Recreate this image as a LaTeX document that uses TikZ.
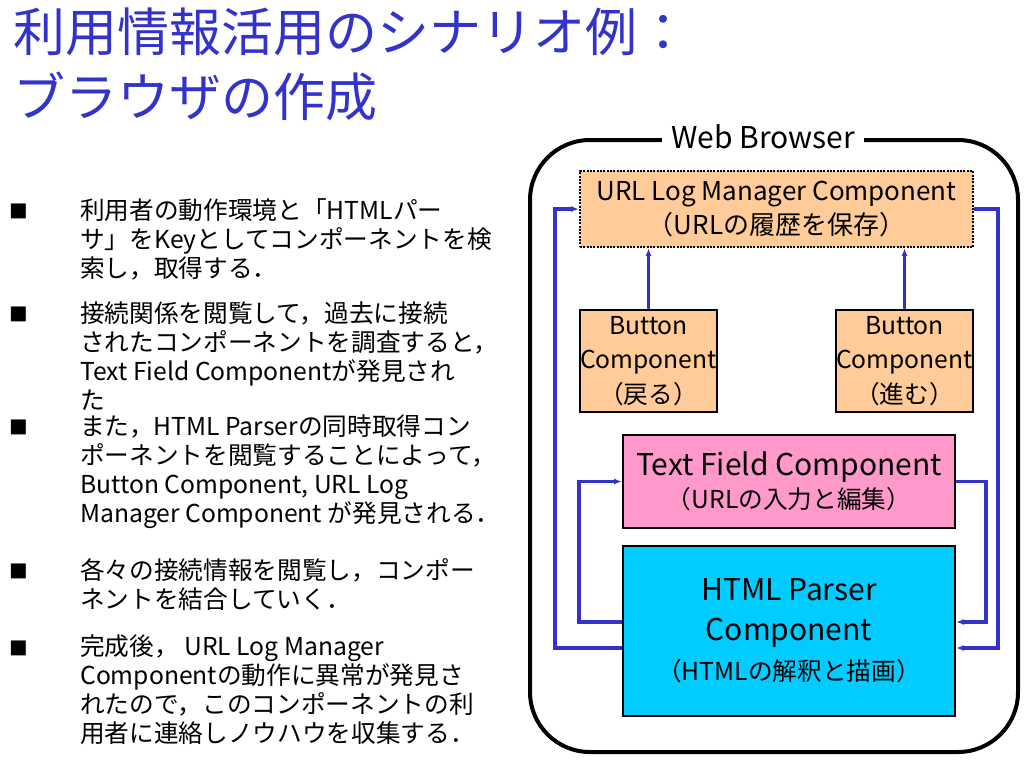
\documentclass[tikz,border=0pt]{standalone}
\usepackage{fontspec}
\setmainfont{Noto Sans CJK JP}
\usetikzlibrary{arrows.meta,calc}

\definecolor{titleblue}{RGB}{51,51,204}
\definecolor{linkblue}{RGB}{51,51,204}
\definecolor{peach}{RGB}{255,204,153}
\definecolor{rosepink}{RGB}{255,153,204}
\definecolor{skycyan}{RGB}{0,204,255}

\begin{document}
\begin{tikzpicture}[x=0.75pt,y=0.75pt,yscale=-1,xscale=1,
    comp/.style={draw=black,line width=1.5pt,inner sep=0pt,align=center,font=\fontsize{18.5}{25}\selectfont},
    link/.style={draw=linkblue,line width=2.4pt,-{Latex[length=6pt,width=4.5pt]}},
    bullet/.style={inner sep=0pt,font=\fontsize{14}{14}\selectfont},
    para/.style={anchor=north west,inner sep=0pt,align=left,font=\fontsize{18.5}{21.75}\selectfont}]
    \useasboundingbox (0,0) rectangle (1024,768);

    %Title
    \node[anchor=north west,inner sep=0pt,align=left,text=titleblue,font=\fontsize{39}{48.75}\selectfont] (title) at (13,8) {利用情報活用のシナリオ例：\\ブラウザの作成};

    %Bullets
    \node[bullet] (b1) at (19,211) {■};
    \node[para] (p1) at (80,198) {利用者の動作環境と「HTMLパー\\サ」をKeyとしてコンポーネントを検\\索し，取得する．};
    \node[bullet] (b2) at (19,314) {■};
    \node[para] (p2) at (80,301) {接続関係を閲覧して，過去に接続\\されたコンポーネントを調査すると，\\Text Field Componentが発見され\\た};
    \node[bullet] (b3) at (19,427) {■};
    \node[para] (p3) at (80,414) {また，HTML Parserの同時取得コン\\ポーネントを閲覧することによって，\\Button Component, URL Log\\Manager Component が発見される．};
    \node[bullet] (b4) at (19,571) {■};
    \node[para] (p4) at (80,558) {各々の接続情報を閲覧し，コンポー\\ネントを結合していく．};
    \node[bullet] (b5) at (19,648) {■};
    \node[para] (p5) at (80,635) {完成後， URL Log Manager\\Componentの動作に異常が発見さ\\れたので，このコンポーネントの利\\用者に連絡しノウハウを収集する．};

    %Rounded Rect
    \draw[line width=3pt,rounded corners=45pt] (530,140) rectangle (1018,752);
    \node[fill=white,inner xsep=7pt,inner ysep=2pt,font=\fontsize{22.5}{22.5}\selectfont] (browser) at (763,137) {Web Browser};

    %Components
    \node[comp,densely dotted,fill=peach,minimum width=294.75pt,minimum height=57pt,font=\fontsize{19.5}{25}\selectfont] (urllog) at (776.5,209) {URL Log Manager Component\\（URLの履歴を保存）};
    \node[comp,fill=peach,text width=102.75pt,minimum height=76.5pt,font=\fontsize{18.5}{26}\selectfont] (btnback) at (648.5,361) {Button\\Component\\（戻る）};
    \node[comp,fill=peach,text width=102.75pt,minimum height=76.5pt,font=\fontsize{18.5}{26}\selectfont] (btnfwd) at (904.5,361) {Button\\Component\\（進む）};
    \node[comp,fill=rosepink,minimum width=249pt,minimum height=69.75pt] (textf) at (789,481.5) {{\fontsize{22.5}{26}\selectfont Text Field Component}\\（URLの入力と編集）};
    \node[comp,fill=skycyan,minimum width=249pt,minimum height=127.5pt,font=\fontsize{22.5}{30}\selectfont] (html) at (789,631) {HTML Parser\\Component\\{\fontsize{18.5}{28}\selectfont（HTMLの解釈と描画）}};

    %Straight Lines
    \draw[link] (btnback.north) -- (btnback.north |- urllog.south);
    \draw[link] (btnfwd.north) -- (btnfwd.north |- urllog.south);
    \draw[link] ($(html.west)+(0,17)$) -- ++(-67,0) |- (urllog.west);
    \draw[link] ($(html.west)+(0,-9)$) -- ++(-43,0) |- (textf.west);
    \draw[link] (urllog.east) -- ++(24,0) |- ($(html.east)+(0,17)$);
    \draw[link] (textf.east) -- ++(30,0) |- ($(html.east)+(0,-9)$);
\end{tikzpicture}
\end{document}
